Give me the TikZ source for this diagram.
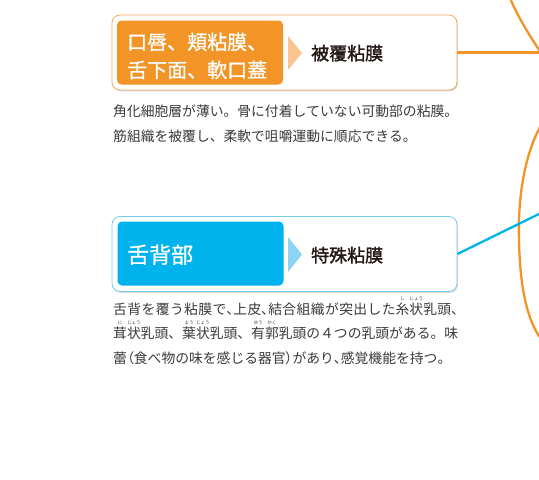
\documentclass[tikz,border=0pt]{standalone}
\usepackage{fontspec}
\setmainfont{Noto Sans CJK JP}
\newfontfamily\descfont{Noto Sans CJK JP}[RawFeature=+palt]
\newfontfamily\labfont{Noto Sans CJK JP}[FakeBold=1.6]
\newfontfamily\catfont{Noto Sans CJK JP}[FakeBold=0.9]
\usetikzlibrary{shadows}
\XeTeXlinebreaklocale "ja"
\XeTeXlinebreakskip=0pt plus 3pt
\XeTeXlinebreakpenalty=10000
\definecolor{orMain}{HTML}{F39426}
\definecolor{orLight}{HTML}{FAC58D}
\definecolor{orBorder}{HTML}{F2A95A}
\definecolor{blMain}{HTML}{00B3EC}
\definecolor{blLight}{HTML}{8CD4F4}
\definecolor{blBorder}{HTML}{73CBEB}
\definecolor{txtbody}{HTML}{3A3A3A}
\definecolor{txtdark}{HTML}{231815}
\newcommand\rb[2]{\leavevmode\setbox0\hbox{#1}\rlap{\hbox to\wd0{\hss\raisebox{13.6pt}{\fontsize{4.6pt}{4.6pt}\selectfont #2}\hss}}\box0}
\newcommand\hp[1]{{\descfont #1}}
\tikzset{
  outerbox/.style={draw=#1, line width=0.8pt, fill=white, rounded corners=8pt,
    drop shadow={shadow xshift=0.8pt, shadow yshift=-1.3pt, opacity=0.22, fill=black!70},
    minimum width=345pt, minimum height=75pt, inner sep=0pt},
  innerbox/.style={fill=#1, rounded corners=4.5pt, minimum width=166pt, minimum height=64pt, inner sep=0pt},
  cattext/.style={anchor=base west, text=white, inner sep=0pt, align=left},
  labeltext/.style={anchor=base west, text=txtdark, inner sep=0pt, font=\labfont\fontsize{18pt}{18pt}\selectfont},
  desctext/.style={anchor=base west, text=txtbody, inner sep=0pt, text width=345pt, align=justify},
  oline/.style={draw=orMain, line width=2.3pt},
  bline/.style={draw=blMain, line width=2.3pt}
}
\begin{document}
\begin{tikzpicture}[x=1pt, y=-1pt]
\useasboundingbox (0,0) rectangle (539,480);
\clip (0,0) rectangle (539,480);
% illustration outlines at the right
\draw[oline, line cap=round] (510,-2) .. controls (518,17) and (528,33) .. (541,53);
\draw[oline, line cap=round] (541,125) .. controls (522,160) and (518,205) .. (519,240) .. controls (520,285) and (526,318) .. (541,339);
% top box
\node[outerbox=orBorder] (topbox) at (284.5,52.5) {};
\node[innerbox=orMain] (topcat) at (200,52.5) {};
\fill[orLight] (288,36) -- (302,53) -- (288,70) -- cycle;
\node[cattext, font=\catfont\fontsize{20pt}{28pt}\selectfont] (toptext) at (127,77.5) {口唇、頬粘膜、\\舌下面、軟口蓋};
\node[labeltext] (toplabel) at (311,60) {被覆粘膜};
\node[desctext, font=\fontsize{13.8pt}{25pt}\selectfont] (topdesc) at (113,116) {角化細胞層が薄い。骨に付着していない可動部の粘膜。\linebreak 筋組織を被覆し、柔軟で咀嚼運動に順応できる。};
% bottom box
\node[outerbox=blBorder] (botbox) at (284.5,254) {};
\node[innerbox=blMain] (botcat) at (200.5,253.5) {};
\fill[blLight] (288,237) -- (302,254.5) -- (288,272) -- cycle;
\node[cattext, font=\catfont\fontsize{22pt}{22pt}\selectfont] (bottext) at (127,263) {舌背部};
\node[labeltext] (botlabel) at (311,262) {特殊粘膜};
\node[desctext, font=\fontsize{13.8pt}{24.5pt}\selectfont] (botdesc) at (113,314) {舌背を覆う粘膜で\hp{、}上皮\hp{、}結合組織が突出した\rb{糸}{し}\rb{状}{じょう}乳頭\hp{、}\linebreak \rb{茸}{に}\rb{状}{じょう}乳頭、\rb{葉}{よう}\rb{状}{じょう}乳頭、\rb{有}{ゆう}\rb{郭}{かく}乳頭の４つの乳頭がある\hp{。}\hfill 味\linebreak 蕾\hp{（}食べ物の味を感じる器官\hp{）}があり\hp{、}感覚機能を持つ\hp{。}};
% connectors
\coordinate (oEnd) at (541,52.5);
\coordinate (bEnd) at (541,213);
\draw[oline] (topbox.east) -- (oEnd);
\draw[bline] (botbox.east) -- (bEnd);
\end{tikzpicture}
\end{document}
